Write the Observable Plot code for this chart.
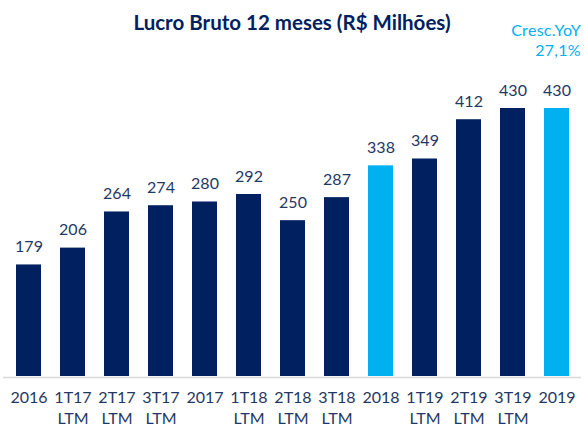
<!DOCTYPE html>
<html>
<head>
<meta charset="utf-8">
<script src="https://cdn.jsdelivr.net/npm/d3@7"></script>
<script src="https://cdn.jsdelivr.net/npm/@observablehq/plot@0.6"></script>
<style>
  html, body { margin: 0; padding: 0; background: #fff; }
  #wrap { position: relative; width: 584px; height: 428px; overflow: hidden; font-family: Lato, "Open Sans", sans-serif; }
  #title { position: absolute; left: 0; width: 584px; top: 12px; text-align: center; font-size: 20.5px; font-weight: bold; color: #002060; line-height: 20px; white-space: nowrap; }
  #yoy { position: absolute; right: 3px; top: 20px; text-align: right; font-size: 16px; letter-spacing: 0.3px; color: #00b0f0; line-height: 19.5px; }
  #chart { position: absolute; left: 0; top: 0; }
</style>
</head>
<body>
<div id="wrap">
  <div id="chart"></div>
  <div id="title">Lucro Bruto 12 meses (R$ Milhões)</div>
  <div id="yoy">Cresc.YoY<br>27,1%</div>
</div>
<script>
const categories = ["2016", "1T17 LTM", "2T17 LTM", "3T17 LTM", "2017", "1T18 LTM", "2T18 LTM", "3T18 LTM", "2018", "1T19 LTM", "2T19 LTM", "3T19 LTM", "2019"];
const values = [179, 206, 264, 274, 280, 292, 250, 287, 338, 349, 412, 430, 430];
const highlighted = ["2018", "2019"];

const data = categories.map((c, i) => ({ cat: c, value: values[i], hi: highlighted.includes(c) }));

const navy = "#002060";
const light = "#00b0f0";
const textNavy = "#1f3864";

const chart = Plot.plot({
  width: 584,
  height: 428,
  marginLeft: 3,
  marginRight: 3,
  marginTop: 108,
  marginBottom: 52,
  style: { fontFamily: "Lato, 'Open Sans', sans-serif", background: "transparent" },
  x: { domain: categories, paddingInner: 0.44, paddingOuter: 0.214, align: 0.5, label: null },
  y: { domain: [0, 430], axis: null },
  marks: [
    Plot.barY(data, { x: "cat", y: "value", fill: d => d.hi ? light : navy }),
    Plot.ruleY([0], { stroke: "#d9d9d9", strokeWidth: 1.5, dy: 1 }),
    Plot.text(data, { x: "cat", y: "value", text: d => String(d.value), dy: -13, lineAnchor: "bottom", fill: textNavy, fontSize: 16 }),
    Plot.axisX({ tickSize: 0, tickPadding: 12, fontSize: 16, fill: textNavy, lineHeight: 1.3, tickFormat: d => d.replace(" ", "\n"), label: null })
  ]
});
document.getElementById("chart").appendChild(chart);
</script>
</body>
</html>
